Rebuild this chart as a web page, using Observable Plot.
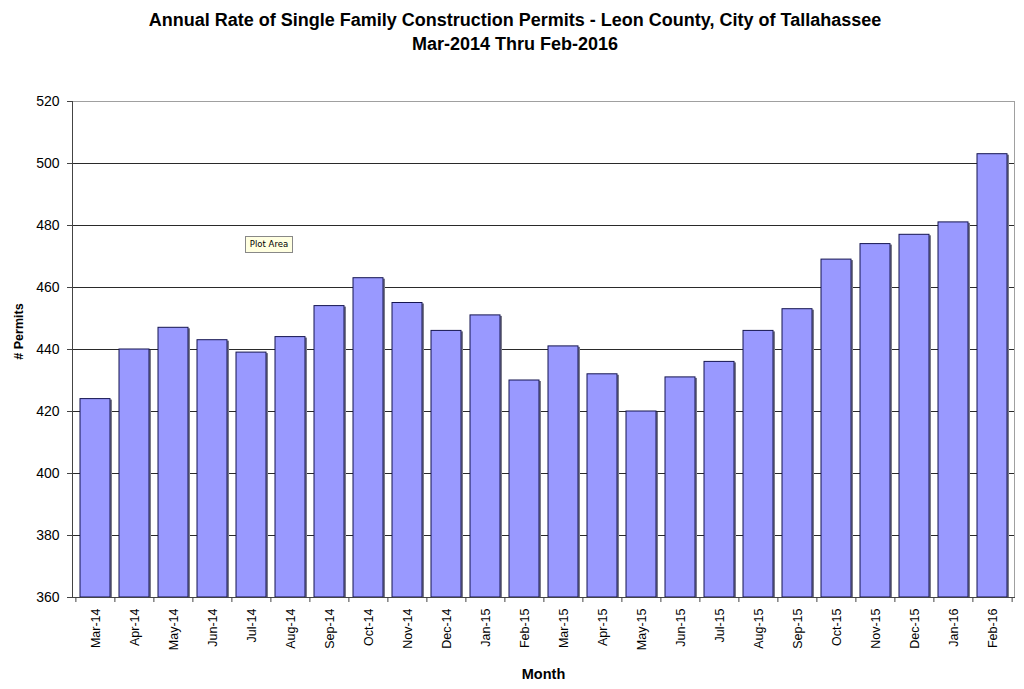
<!DOCTYPE html>
<html>
<head>
<meta charset="utf-8">
<script src="https://cdn.jsdelivr.net/npm/d3@7"></script>
<script src="https://cdn.jsdelivr.net/npm/@observablehq/plot@0.6"></script>
<style>
  html, body { margin: 0; padding: 0; background: #fff; }
  #wrap { position: relative; width: 1024px; height: 689px; font-family: "Liberation Sans", Arial, sans-serif; }
  .title { position: absolute; left: 515px; transform: translateX(-50%); white-space: nowrap; font-weight: bold; font-size: 18px; line-height: 21px; color: #000; }
  #tip { position: absolute; left: 245px; top: 236px; width: 46px; height: 15px; background: #ffffe1; border: 1px solid #888; font-family: "DejaVu Sans", sans-serif; font-size: 8.5px; line-height: 15px; text-align: center; color: #000; }
  #chart { position: absolute; left: 0; top: 90px; }
</style>
</head>
<body>
<div id="wrap">
  <div class="title" style="top:10px">Annual Rate of Single Family Construction Permits - Leon County, City of Tallahassee</div>
  <div class="title" style="top:34px">Mar-2014 Thru Feb-2016</div>
  <div id="chart"></div>
  <div id="tip">Plot Area</div>
</div>
<script>
const months = ["Mar-14","Apr-14","May-14","Jun-14","Jul-14","Aug-14","Sep-14","Oct-14","Nov-14","Dec-14","Jan-15","Feb-15",
                "Mar-15","Apr-15","May-15","Jun-15","Jul-15","Aug-15","Sep-15","Oct-15","Nov-15","Dec-15","Jan-16","Feb-16"];
const permits = [424,440,447,443,439,444,454,463,455,446,451,430,
                 441,432,420,431,436,446,453,469,474,477,481,503];
const yTicks = [360,380,400,420,440,460,480,500,520];
const gridTicks = [380,400,420,440,460,480,500];
const yLabel = "# Permits";
const xLabel = "Month";

const yMin = yTicks[0], yMax = yTicks[yTicks.length - 1];
const data = months.map((m, i) => ({month: m, permits: permits[i]}));

const W = 1024, H = 599, ML = 72, MR = 10, MT = 11, MB = 92;
const step = (W - ML - MR) / months.length;

const chart = Plot.plot({
  width: W, height: H,
  marginLeft: ML, marginRight: MR, marginTop: MT, marginBottom: MB,
  style: {fontFamily: "'Liberation Sans', Arial, sans-serif", color: "#000", background: "#fff", overflow: "visible"},
  x: {domain: months, paddingInner: 0.24, paddingOuter: 0.12, label: null},
  y: {domain: [yMin, yMax], label: null},
  marks: [
    Plot.ruleY(gridTicks, {stroke: "#2a2a2a", strokeWidth: 1}),
    Plot.barY(data, {x: "month", y1: () => yMin, y2: "permits", fill: "#7a7a8a", dx: 2, dy: 1}),
    Plot.barY(data, {x: "month", y1: () => yMin, y2: "permits", fill: "#9999ff", stroke: "#141450", strokeWidth: 1}),
    Plot.frame({stroke: "#a0a0a0"}),
    Plot.frame({anchor: "left", stroke: "#444"}),
    Plot.frame({anchor: "bottom", stroke: "#444"}),
    Plot.axisY(yTicks, {tickSize: 5, tickPadding: 8, fontSize: 14, label: null, stroke: "#444"}),
    Plot.axisX({tickSize: 0, tickRotate: -90, tickPadding: 11, fontSize: 12.5, label: null}),
    Plot.axisX({tickSize: 5, tickFormat: () => "", dx: -step / 2, label: null, stroke: "#444"}),
    Plot.axisX([months[months.length - 1]], {tickSize: 5, tickFormat: () => "", dx: step / 2, label: null, stroke: "#444"}),
    Plot.text([yLabel], {frameAnchor: "left", dx: -54, dy: -18, rotate: -90, fontWeight: "bold", fontSize: 12.5, textAnchor: "middle"}),
    Plot.text([xLabel], {frameAnchor: "bottom", dy: 77, fontWeight: "bold", fontSize: 14.5, textAnchor: "middle", lineAnchor: "middle"})
  ]
});
document.getElementById("chart").appendChild(chart);
</script>
</body>
</html>
